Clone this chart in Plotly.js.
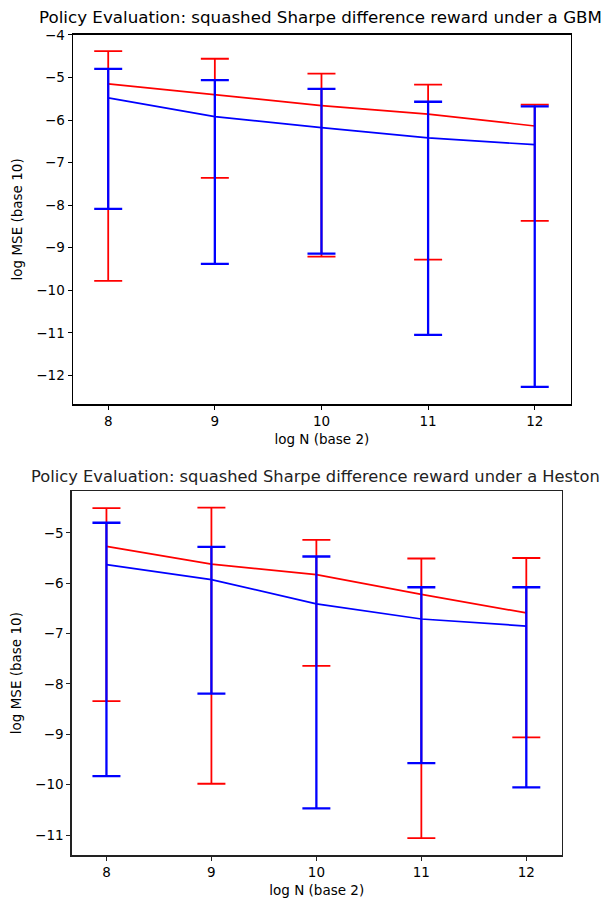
<!DOCTYPE html>
<html>
<head>
<meta charset="utf-8">
<script src="https://cdn.plot.ly/plotly-3.0.1.min.js"></script>
<style>html,body{margin:0;padding:0;background:#fff;}#chart{width:603px;height:901px;}</style>
</head>
<body>
<div id="chart"></div>
<script>
// x values: log N (base 2)
const logN = [8, 9, 10, 11, 12];

// Top panel (GBM)
const gbmRedMean  = [-5.15, -5.40, -5.66, -5.86, -6.14];
const gbmRedUpper = [-4.38, -4.56, -4.91, -5.17, -5.64];
const gbmRedLower = [-9.78, -7.36, -9.21, -9.28, -8.37];
const gbmBlueMean  = [-5.48, -5.92, -6.18, -6.42, -6.58];
const gbmBlueUpper = [-4.80, -5.06, -5.27, -5.57, -5.68];
const gbmBlueLower = [-8.09, -9.38, -9.14, -11.05, -12.27];

// Bottom panel (Heston)
const hesRedMean  = [-5.27, -5.62, -5.83, -6.22, -6.59];
const hesRedUpper = [-4.51, -4.50, -5.14, -5.51, -5.50];
const hesRedLower = [-8.34, -9.98, -7.64, -11.06, -9.06];
const hesBlueMean  = [-5.63, -5.93, -6.41, -6.71, -6.85];
const hesBlueUpper = [-4.80, -5.28, -5.47, -6.08, -6.08];
const hesBlueLower = [-9.83, -8.19, -10.47, -9.57, -10.05];

const titles = [
  "Policy Evaluation: squashed Sharpe difference reward under a GBM",
  "Policy Evaluation: squashed Sharpe difference reward under a Heston"
];
const xTitle = "log N (base 2)";
const yTitle = "log MSE (base 10)";

function mk(mean, up, lo, color, thick, xa, ya) {
  return {
    x: logN, y: mean, type: 'scatter', mode: 'lines',
    line: {color: color, width: 1.7},
    xaxis: xa, yaxis: ya, showlegend: false, hoverinfo: 'skip',
    error_y: {
      type: 'data', symmetric: false,
      array: up.map((v, i) => v - mean[i]),
      arrayminus: mean.map((v, i) => v - lo[i]),
      color: color, thickness: thick, width: 14
    }
  };
}

const data = [
  mk(gbmRedMean, gbmRedUpper, gbmRedLower, '#ff0000', 1.8, 'x', 'y'),
  mk(gbmBlueMean, gbmBlueUpper, gbmBlueLower, '#0000ff', 2.3, 'x', 'y'),
  mk(hesRedMean, hesRedUpper, hesRedLower, '#ff0000', 1.8, 'x2', 'y2'),
  mk(hesBlueMean, hesBlueUpper, hesBlueLower, '#0000ff', 2.3, 'x2', 'y2')
];

const font = {family: 'DejaVu Sans', size: 13.5, color: '#000'};
function xax(domain, anchor, col) {
  return {
    domain: domain, anchor: anchor, range: [7.667, 12.34],
    tickvals: logN, ticks: 'outside', ticklen: 4, tickwidth: 1, tickcolor: col,
    showline: true, linecolor: col, linewidth: 1.2, mirror: true,
    showgrid: false, zeroline: false, tickfont: font, automargin: false,
    title: {text: xTitle, font: font, standoff: 6}
  };
}
function yax(domain, anchor, range, col) {
  return {
    domain: domain, anchor: anchor, range: range, dtick: 1, tick0: 0,
    ticks: 'outside', ticklen: 4, tickwidth: 1, tickcolor: col,
    showline: true, linecolor: col, linewidth: 1.2, mirror: true,
    showgrid: false, zeroline: false, tickfont: font, automargin: false,
    title: {text: yTitle, font: font, standoff: 10}
  };
}

const layout = {
  width: 603, height: 901,
  margin: {l: 0, r: 0, t: 0, b: 0},
  paper_bgcolor: '#fff', plot_bgcolor: '#fff',
  font: font,
  showlegend: false,
  title: {text: titles[0], font: {family: 'DejaVu Sans', size: 16.7, color: '#000'},
          x: 320.5/603, xanchor: 'center', y: 1 - 17.5/901, yanchor: 'middle', xref: 'paper', yref: 'paper'},
  xaxis: xax([72.7/603, 571/603], 'y', '#000'),
  yaxis: yax([1 - 404.3/901, 1 - 34.5/901], 'x', [-12.68, -3.99], '#000'),
  xaxis2: xax([71.5/603, 562/603], 'y2', '#222'),
  yaxis2: yax([1 - 855.3/901, 1 - 491/901], 'x2', [-11.40, -4.17], '#222'),
  annotations: [{
    text: titles[1], xref: 'paper', yref: 'paper', x: 315/603, y: 1 - 476.5/901,
    xanchor: 'center', yanchor: 'middle', showarrow: false,
    font: {family: 'DejaVu Sans', size: 16.3, color: '#222'}
  }]
};

Plotly.newPlot('chart', data, layout, {staticPlot: true, displayModeBar: false});
</script>
</body>
</html>
